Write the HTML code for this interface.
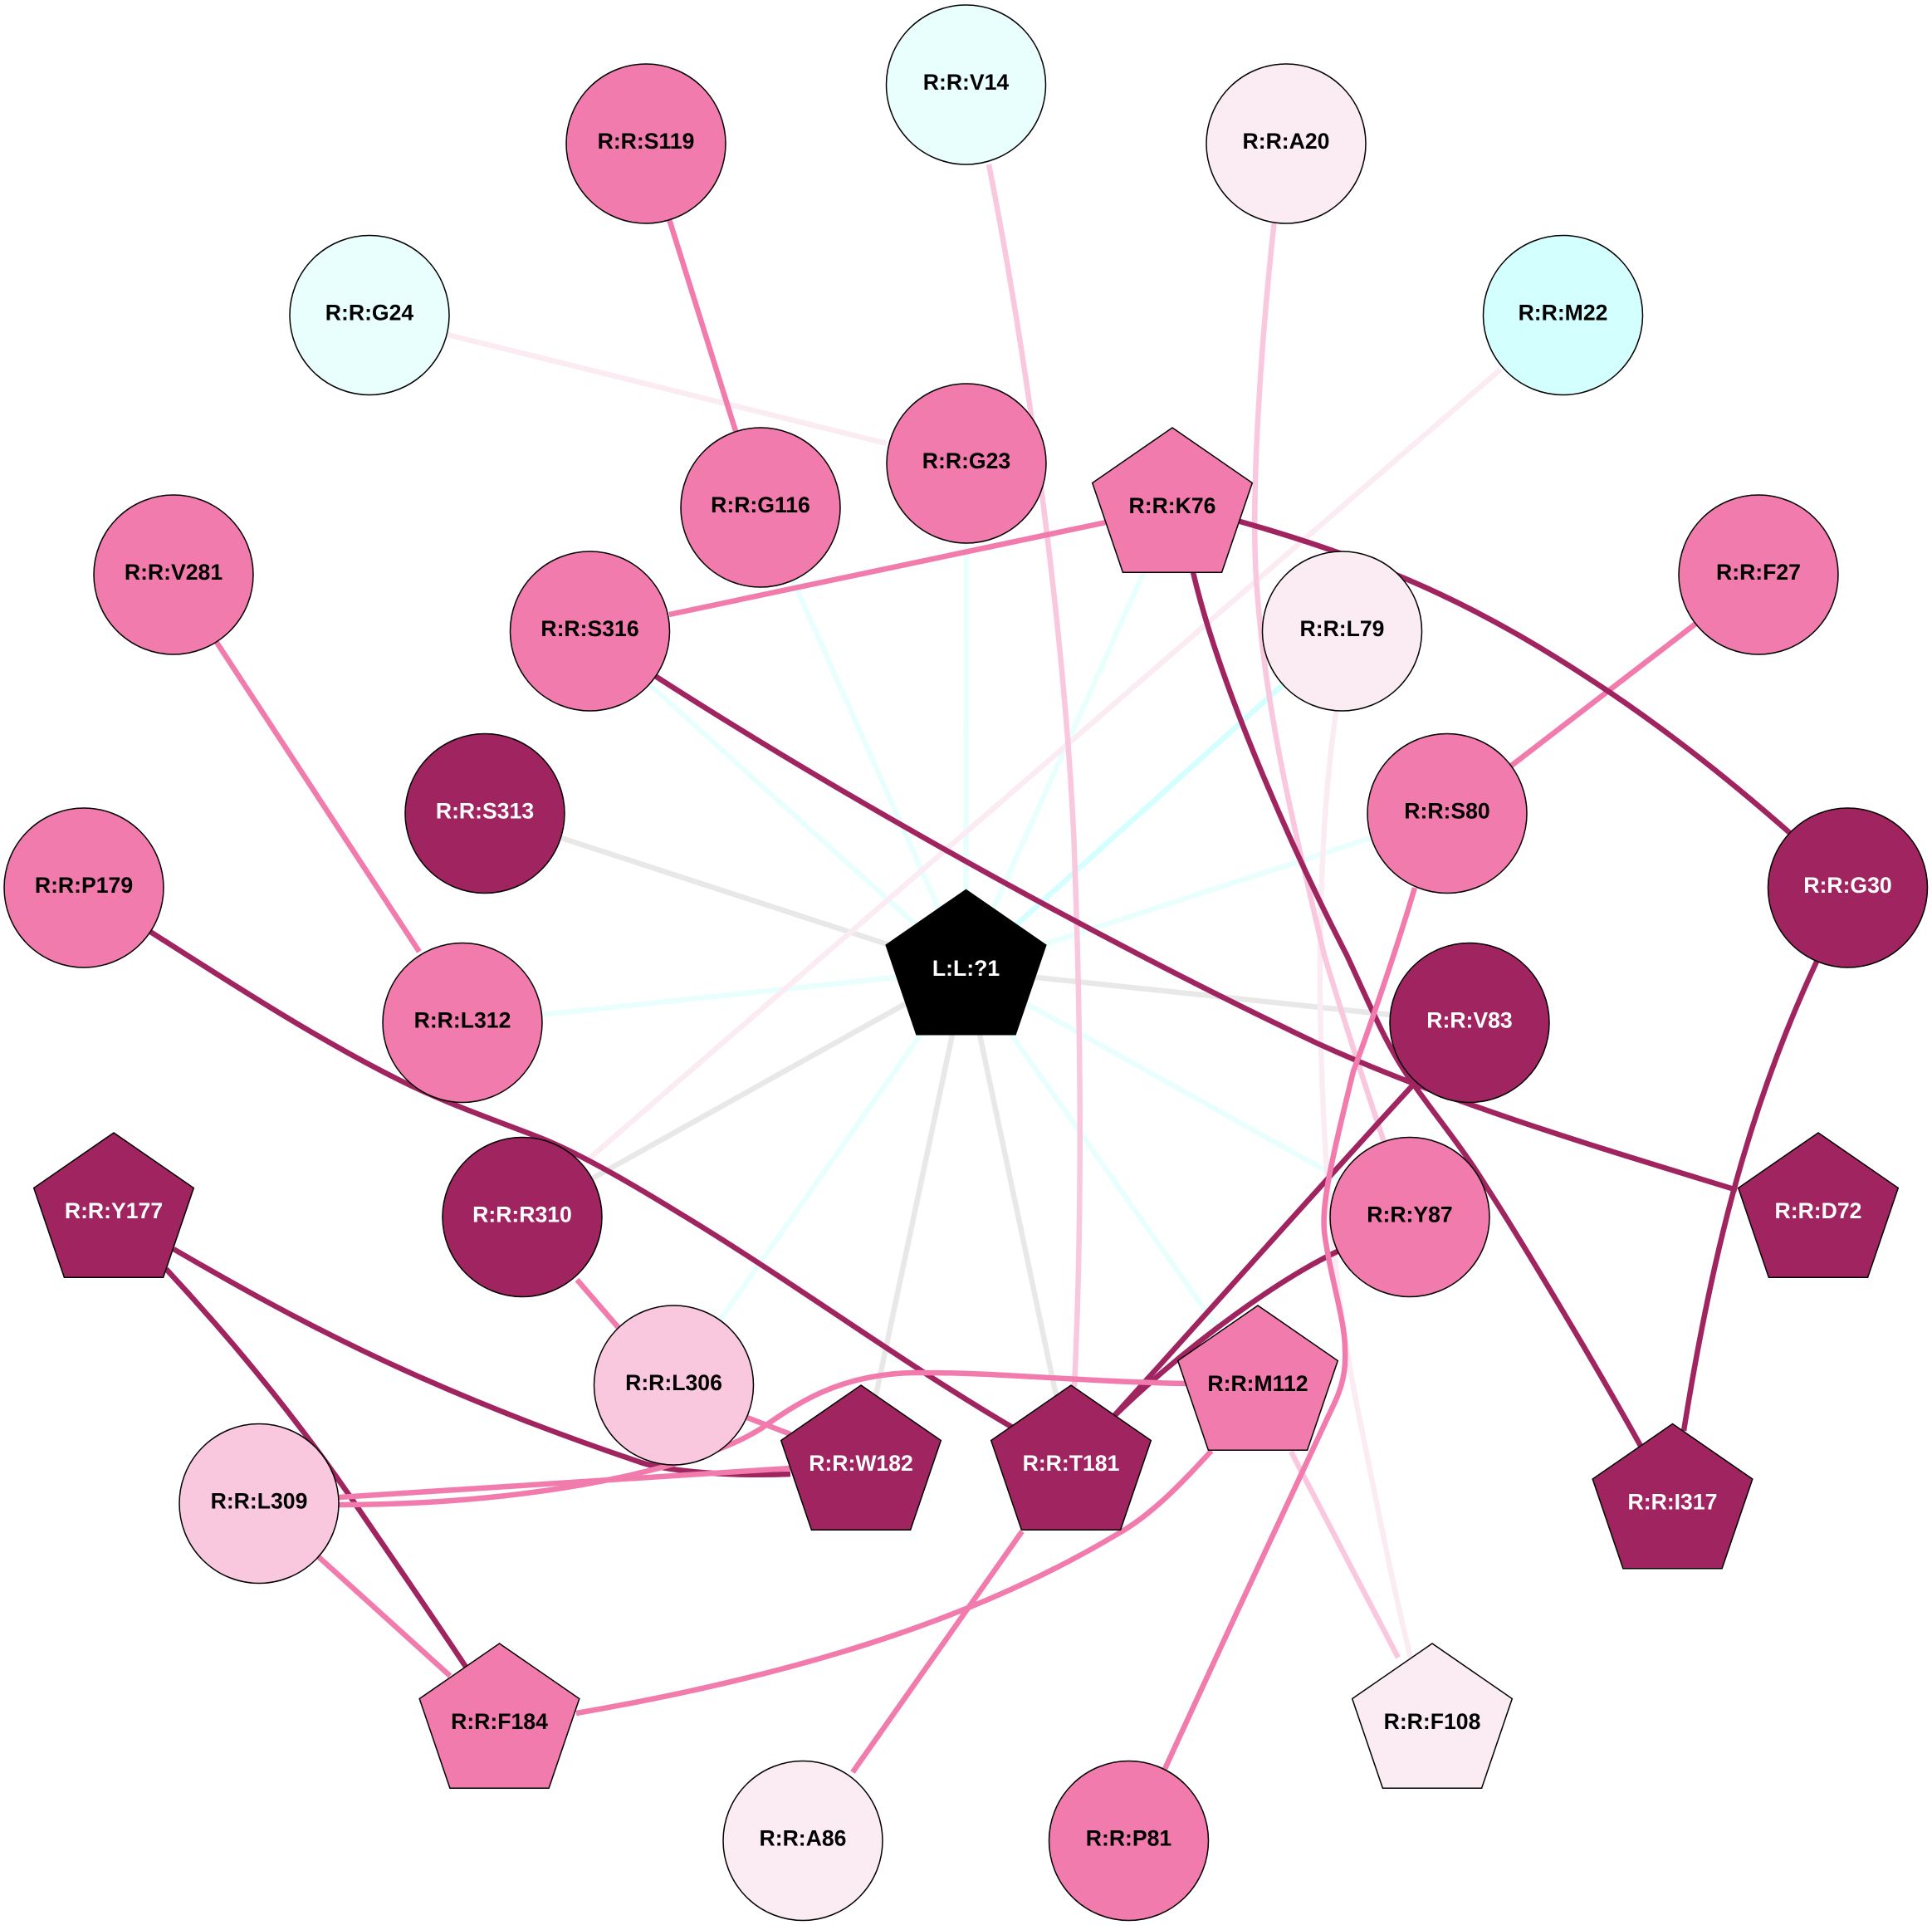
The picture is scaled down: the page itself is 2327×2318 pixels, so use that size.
<!DOCTYPE html>
<html><head><meta charset="utf-8"><style>
html,body{margin:0;padding:0;background:#fff;width:2327px;height:2318px;overflow:hidden}
svg{display:block}
text{font-family:"Liberation Sans",sans-serif;font-weight:bold;font-size:26.6px;text-anchor:middle}
.e{fill:none;stroke-width:6.5}
.c{stroke:#e8fffe}.cc{stroke:#d4ffff}.g{stroke:#e8e8e8}
.p{stroke:#f17bac}.d{stroke:#a0245f}.l{stroke:#f9c7de}.v{stroke:#fbebf3}
.n{stroke:#000;stroke-width:1.5}
</style></head><body>
<svg width="2327" height="2318" viewBox="0 0 2327 2318" xmlns="http://www.w3.org/2000/svg">
<rect width="2327" height="2318" fill="#fff"/>
<defs><polygon id="pt" class="n" points="0,-96.5 96.3,-30 59.6,77.8 -59.6,77.8 -96.3,-30"/></defs>
<g>
<path class="e c" d="M1163.5 1168L1164 558"/>
<path class="e c" d="M1163.5 1168L916 611"/>
<path class="e c" d="M1163.5 1168L1412 612"/>
<path class="e c" d="M1163.5 1168L711 760"/>
<path class="e cc" d="M1163.5 1168L1617 760"/>
<path class="e c" d="M1163.5 1168L1743 979"/>
<path class="e c" d="M1163.5 1168L557 1232"/>
<path class="e g" d="M1163.5 1168L584 979"/>
<path class="e g" d="M1163.5 1168L1770 1232"/>
<path class="e g" d="M1163.5 1168L629 1466"/>
<path class="e g" d="M1163.5 1168L1037 1765"/>
<path class="e g" d="M1163.5 1168L1290 1765"/>
<path class="e c" d="M1163.5 1168L812 1668"/>
<path class="e c" d="M1163.5 1168L1515 1668"/>
<path class="e c" d="M1163.5 1168L1698 1466"/>

<path class="e v" d="M539 403L1068 534"/>
<path class="e v" d="M1807 445L705 1399"/>
<path class="e v" d="M1610 853C1590 980 1588 1150 1591 1257C1595 1420 1610 1580 1640 1720C1660 1820 1680 1920 1699 1996"/>
<path class="e l" d="M1191 198C1235 420 1280 740 1293 1000C1303 1250 1303 1480 1294 1670"/>
<path class="e l" d="M1535 265C1520 400 1505 600 1514 710C1525 860 1555 980 1595 1150C1610 1200 1640 1295 1668 1378"/>
<path class="e l" d="M1555 1748L1684 1996"/>

<path class="e p" d="M806 264L886 519"/>
<path class="e p" d="M806 740L1332 629"/>
<path class="e p" d="M2045 749L1819 923"/>
<path class="e p" d="M260 772L505 1146"/>
<path class="e p" d="M695 1541L746 1600"/>
<path class="e p" d="M900 1707L952 1727"/>
<path class="e p" d="M384 1875L542 2018"/>
<path class="e p" d="M1231 1844L1027 2134"/>

<path class="e d" d="M1490 627C1680 680 1800 740 1938 833C2015 885 2090 945 2158 1005"/>
<path class="e d" d="M1437 689C1470 830 1560 1030 1622 1150C1650 1210 1670 1260 1700 1302C1730 1345 1760 1380 1789 1427C1830 1490 1920 1640 1976 1741"/>
<path class="e d" d="M786 812C1000 950 1300 1120 1588 1257C1750 1330 1920 1380 2092 1433"/>
<path class="e d" d="M2188 1158C2100 1346 2058 1535 2028 1723"/>
<path class="e d" d="M1706 1302C1620 1395 1480 1552 1340 1707"/>
<path class="e d" d="M1615 1505C1550 1535 1440 1610 1340 1707"/>
<path class="e d" d="M178 1120C280 1185 380 1250 480 1300C540 1330 600 1350 653 1371C700 1390 760 1425 817 1460C950 1540 1100 1650 1225 1722"/>
<path class="e d" d="M209 1504C340 1580 500 1670 775 1762C810 1772 880 1778 952 1775"/>
<path class="e d" d="M200 1528C290 1625 370 1725 434 1820C475 1880 520 1945 561 2007"/>

<path class="e p" d="M408 1803L952 1768"/>
<path class="e p" d="M408 1812C540 1812 680 1798 797 1767C850 1752 885 1740 917 1720C960 1690 1010 1655 1100 1653C1200 1652 1300 1664 1432 1666"/>
<path class="e p" d="M1459 1747C1420 1790 1385 1825 1348 1846C1200 1935 1000 2010 694 2063"/>
<path class="e p" d="M1704 1069C1680 1150 1645 1250 1630 1290C1603 1400 1590 1455 1596 1490C1603 1540 1620 1590 1620 1625C1622 1660 1612 1680 1600 1705C1560 1790 1460 2005 1403 2130"/>
</g>

<g>
<circle class="n" cx="1163.5" cy="102" r="96" fill="#e8fffe"/><text x="1163.5" y="108">R:R:V14</text>
<circle class="n" cx="778" cy="173" r="96" fill="#f17bac"/><text x="778" y="179">R:R:S119</text>
<circle class="n" cx="1549" cy="173" r="96" fill="#fbebf3"/><text x="1549" y="179">R:R:A20</text>
<circle class="n" cx="445" cy="379.5" r="96" fill="#e8fffe"/><text x="445" y="385.5">R:R:G24</text>
<circle class="n" cx="1882.5" cy="379.5" r="96" fill="#d4ffff"/><text x="1882.5" y="385.5">R:R:M22</text>
<circle class="n" cx="1164" cy="558" r="96" fill="#f17bac"/><text x="1164" y="564">R:R:G23</text>
<circle class="n" cx="916" cy="611" r="96" fill="#f17bac"/><text x="916" y="617">R:R:G116</text>
<circle class="n" cx="209" cy="692" r="96" fill="#f17bac"/><text x="209" y="698">R:R:V281</text>
<circle class="n" cx="2118" cy="692" r="96" fill="#f17bac"/><text x="2118" y="698">R:R:F27</text>
<circle class="n" cx="710.5" cy="760" r="96" fill="#f17bac"/><text x="710.5" y="766">R:R:S316</text>
<circle class="n" cx="1616.5" cy="760" r="96" fill="#fbebf3"/><text x="1616.5" y="766">R:R:L79</text>
<circle class="n" cx="584" cy="979.5" r="96" fill="#a0245f"/><text x="584" y="985.5" fill="#fff">R:R:S313</text>
<circle class="n" cx="1743" cy="979.5" r="96" fill="#f17bac"/><text x="1743" y="985.5">R:R:S80</text>
<circle class="n" cx="101" cy="1069" r="96" fill="#f17bac"/><text x="101" y="1075">R:R:P179</text>
<circle class="n" cx="2225.5" cy="1069" r="96" fill="#a0245f"/><text x="2225.5" y="1075" fill="#fff">R:R:G30</text>
<circle class="n" cx="557" cy="1231.5" r="96" fill="#f17bac"/><text x="557" y="1237.5">R:R:L312</text>
<circle class="n" cx="1770" cy="1231.5" r="96" fill="#a0245f"/><text x="1770" y="1237.5" fill="#fff">R:R:V83</text>
<circle class="n" cx="629" cy="1465.5" r="96" fill="#a0245f"/><text x="629" y="1471.5" fill="#fff">R:R:R310</text>
<circle class="n" cx="1698" cy="1465.5" r="96" fill="#f17bac"/><text x="1698" y="1471.5">R:R:Y87</text>
<circle class="n" cx="811.5" cy="1668" r="96" fill="#f9c7de"/><text x="811.5" y="1674">R:R:L306</text>
<circle class="n" cx="312" cy="1810.5" r="96" fill="#f9c7de"/><text x="312" y="1816.5">R:R:L309</text>
<circle class="n" cx="967" cy="2216.5" r="96" fill="#fbebf3"/><text x="967" y="2222.5">R:R:A86</text>
<circle class="n" cx="1359.5" cy="2216.5" r="96" fill="#f17bac"/><text x="1359.5" y="2222.5">R:R:P81</text>

<use href="#pt" x="1163.5" y="1168" fill="#000"/><text x="1163.5" y="1175" fill="#fff">L:L:?1</text>
<use href="#pt" x="1412" y="611.5" fill="#f17bac"/><text x="1412" y="618">R:R:K76</text>
<use href="#pt" x="137" y="1460.5" fill="#a0245f"/><text x="137" y="1467" fill="#fff">R:R:Y177</text>
<use href="#pt" x="2190" y="1460.5" fill="#a0245f"/><text x="2190" y="1467" fill="#fff">R:R:D72</text>
<use href="#pt" x="1515" y="1668.5" fill="#f17bac"/><text x="1515" y="1675">R:R:M112</text>
<use href="#pt" x="1037" y="1764.5" fill="#a0245f"/><text x="1037" y="1771" fill="#fff">R:R:W182</text>
<use href="#pt" x="1290" y="1764.5" fill="#a0245f"/><text x="1290" y="1771" fill="#fff">R:R:T181</text>
<use href="#pt" x="2014.5" y="1811" fill="#a0245f"/><text x="2014.5" y="1817.5" fill="#fff">R:R:I317</text>
<use href="#pt" x="601.5" y="2075.5" fill="#f17bac"/><text x="601.5" y="2082">R:R:F184</text>
<use href="#pt" x="1725" y="2075.5" fill="#fbebf3"/><text x="1725" y="2082">R:R:F108</text>
</g>
</svg>
</body></html>
